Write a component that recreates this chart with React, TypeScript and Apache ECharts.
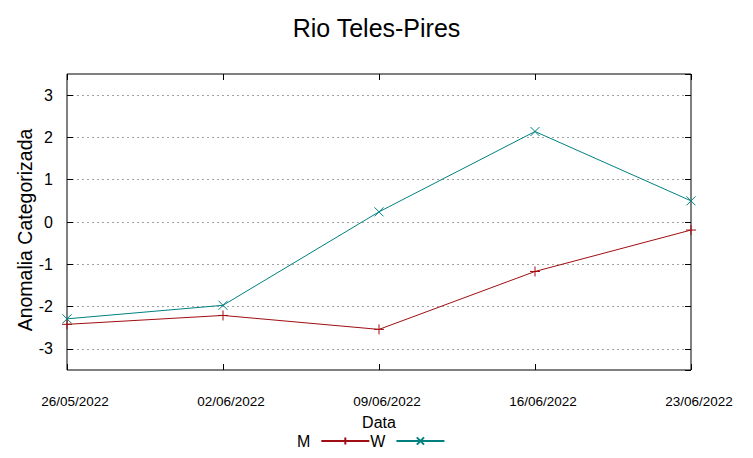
import React, { useEffect, useRef } from "react";
import * as echarts from "echarts";

const categories = ["26/05/2022", "02/06/2022", "09/06/2022", "16/06/2022", "23/06/2022"];
const seriesM = [-2.42, -2.21, -2.54, -1.17, -0.19];
const seriesW = [-2.29, -1.97, 0.24, 2.14, 0.5];

const FONT = "Liberation Sans, Arial, sans-serif";
const RED = "#a00d12";
const TEAL = "#008080";

export default function App() {
  const ref = useRef<HTMLDivElement>(null);
  useEffect(() => {
    if (!ref.current) return;
    const chart = echarts.init(ref.current, null, { renderer: "svg" });
    const plus = "path://M5,0L5,10M0,5L10,5";
    const cross = "path://M0,0L10,10M10,0L0,10";
    const tick = { show: true, inside: true, length: 6, lineStyle: { color: "#000" } };
    chart.setOption({
      animation: false,
      backgroundColor: "#fff",
      title: {
        text: "Rio Teles-Pires",
        left: "center",
        top: 10,
        textStyle: { fontFamily: FONT, fontSize: 25, fontWeight: "normal", color: "#000" },
      },
      grid: {
        left: 67,
        right: 62,
        top: 74,
        bottom: 88,
        show: true,
        borderColor: "#000",
        borderWidth: 1,
        backgroundColor: "transparent",
      },
      legend: {
        top: 428,
        left: 292,
        align: "right",
        itemWidth: 48,
        itemHeight: 9,
        itemGap: 0,
        textStyle: { fontFamily: FONT, fontSize: 16, color: "#000", padding: [0, 6, 0, 0] },
        data: ["M", "W"],
      },
      xAxis: [
        {
          type: "category",
          data: categories,
          boundaryGap: false,
          name: "Data",
          nameLocation: "middle",
          nameGap: 44,
          nameMoveOverlap: false,
          nameTextStyle: { fontFamily: FONT, fontSize: 16, color: "#000" },
          axisLine: { show: false, onZero: false },
          axisTick: tick,
          axisLabel: {
            fontFamily: FONT,
            fontSize: 13.5,
            color: "#000",
            margin: 24,
            padding: [0, 0, 0, 16],
          },
          splitLine: { show: false },
        },
        {
          type: "category",
          data: categories,
          boundaryGap: false,
          position: "top",
          axisLine: { show: false, onZero: false },
          axisTick: tick,
          axisLabel: { show: false },
          splitLine: { show: false },
        },
      ],
      yAxis: [
        {
          type: "value",
          min: -3.5,
          max: 3.5,
          splitNumber: 7,
          name: "Anomalia Categorizada",
          nameLocation: "middle",
          nameGap: 32,
          nameMoveOverlap: false,
          nameTextStyle: {
            fontFamily: FONT,
            fontSize: 19.5,
            color: "#000",
            padding: [0, 16, 0, 0],
          },
          axisLine: { show: false, onZero: false },
          axisTick: tick,
          axisLabel: {
            fontFamily: FONT,
            fontSize: 16,
            color: "#000",
            margin: 14,
            showMinLabel: false,
            showMaxLabel: false,
          },
          splitLine: {
            show: true,
            showMinLine: false,
            showMaxLine: false,
            lineStyle: { color: "#a0a0a0", type: [2, 3], width: 1 },
          },
        },
        {
          type: "value",
          min: -3.5,
          max: 3.5,
          splitNumber: 7,
          position: "right",
          axisLine: { show: false, onZero: false },
          axisTick: tick,
          axisLabel: { show: false },
          splitLine: { show: false },
        },
      ],
      series: [
        {
          name: "M",
          type: "line",
          data: seriesM,
          symbol: plus,
          symbolSize: 10,
          showAllSymbol: true,
          lineStyle: { color: RED, width: 1 },
          itemStyle: { color: RED, borderColor: RED, borderWidth: 1 },
        },
        {
          name: "W",
          type: "line",
          data: seriesW,
          symbol: cross,
          symbolSize: 9,
          showAllSymbol: true,
          lineStyle: { color: TEAL, width: 1 },
          itemStyle: { color: TEAL, borderColor: TEAL, borderWidth: 1 },
        },
      ],
    });
    return () => chart.dispose();
  }, []);
  return (
    <div
      ref={ref}
      style={{ position: "absolute", left: 0, top: 0, width: 753, height: 458 }}
    />
  );
}
